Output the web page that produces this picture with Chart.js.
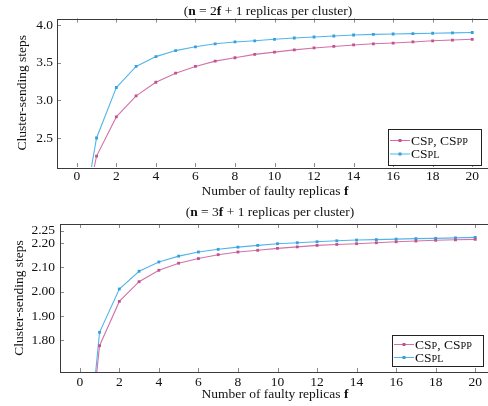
<!DOCTYPE html>
<html>
<head>
<meta charset="utf-8">
<script src="https://cdn.jsdelivr.net/npm/chart.js@4/dist/chart.umd.min.js"></script>
<style>
  html, body { margin: 0; padding: 0; background: #fff; overflow: hidden; }
  #wrap { position: relative; width: 488px; height: 406px; overflow: hidden; }
  .panel { position: absolute; left: 0; width: 500px; }
</style>
</head>
<body>
<div id="wrap">
  <div class="panel" style="top:0;height:200px"><canvas id="twoFChart" width="500" height="200"></canvas></div>
  <div class="panel" style="top:200px;height:206px"><canvas id="threeFChart" width="500" height="206"></canvas></div>
</div>
<script>
// ===============================
// Data
// ===============================
const faultyReplicas = [0, 1, 2, 3, 4, 5, 6, 7, 8, 9, 10, 11, 12, 13, 14, 15, 16, 17, 18, 19, 20];
const xTicks = [0, 2, 4, 6, 8, 10, 12, 14, 16, 18, 20];

// n = 2f + 1
const cspTwoF  = [1, 2.26, 2.78, 3.06, 3.24, 3.36, 3.45, 3.52, 3.565, 3.61, 3.64, 3.67, 3.695, 3.715, 3.735, 3.75, 3.76, 3.775, 3.79, 3.80, 3.81];
const csplTwoF = [1, 2.50, 3.17, 3.45, 3.58, 3.66, 3.71, 3.75, 3.775, 3.79, 3.81, 3.827, 3.84, 3.854, 3.867, 3.875, 3.88, 3.885, 3.89, 3.895, 3.90];
const twoFTicks = [2.5, 3.0, 3.5, 4.0];

// n = 3f + 1
const cspThreeF  = [1, 1.778, 1.960, 2.041, 2.088, 2.117, 2.136, 2.152, 2.163, 2.170, 2.178, 2.184, 2.190, 2.194, 2.197, 2.201, 2.205, 2.208, 2.211, 2.213, 2.215];
const csplThreeF = [1, 1.833, 2.011, 2.084, 2.122, 2.146, 2.163, 2.174, 2.183, 2.190, 2.197, 2.201, 2.205, 2.209, 2.212, 2.214, 2.216, 2.218, 2.219, 2.221, 2.223];
const threeFTicks = [1.80, 1.90, 2.00, 2.10, 2.20, 2.25];

// legend text pieces: [text, smallCaps]
const cspLabel  = [["CS", false], ["P", true], [", CS", false], ["PP", true]];
const csplLabel = [["CS", false], ["PL", true]];

const PINK = "#d272a8", PINK_DOT = "#c2528e";
const BLUE = "#52b5ea", BLUE_DOT = "#35a0dd";
const SERIF = "'Liberation Serif', 'Times New Roman', serif";
const FS = 13.5;

// ===============================
// Drawing helpers
// ===============================
function drawPieces(ctx, pieces, x, y, align) {
  // pieces: [text, fontString]
  let total = 0;
  pieces.forEach(p => { ctx.font = p[1]; total += ctx.measureText(p[0]).width; });
  let cx = align === "center" ? x - total / 2 : x;
  ctx.textAlign = "left";
  ctx.textBaseline = "alphabetic";
  pieces.forEach(p => {
    ctx.font = p[1];
    ctx.fillText(p[0], cx, y);
    cx += ctx.measureText(p[0]).width;
  });
}

const reg = `${FS}px ${SERIF}`;
const bold = `bold ${FS}px ${SERIF}`;
const small = `${FS * 0.76}px ${SERIF}`;

const decorPlugin = {
  id: "decor",
  afterDraw(chart, args, o) {
    const { ctx, chartArea: a, scales } = chart;
    ctx.save();

    // inward ticks on all four sides
    ctx.strokeStyle = "#8a8a8a";
    ctx.lineWidth = 1;
    ctx.beginPath();
    scales.x.ticks.forEach(t => {
      const px = Math.round(scales.x.getPixelForValue(t.value)) + 0.5;
      ctx.moveTo(px, a.bottom); ctx.lineTo(px, a.bottom - 4);
      ctx.moveTo(px, a.top); ctx.lineTo(px, a.top + 4);
    });
    scales.y.ticks.forEach(t => {
      const py = Math.round(scales.y.getPixelForValue(t.value)) + 0.5;
      ctx.moveTo(a.left, py); ctx.lineTo(a.left + 4, py);
      ctx.moveTo(a.right, py); ctx.lineTo(a.right - 4, py);
    });
    ctx.stroke();

    // frame
    ctx.strokeStyle = "#3a3a3a";
    ctx.strokeRect(Math.round(a.left) + 0.5, Math.round(a.top) + 0.5,
      Math.round(a.right - a.left), Math.round(a.bottom - a.top));

    ctx.fillStyle = "#111";
    // title
    drawPieces(ctx, [["(", reg], ["n", bold], [" = " + o.nFactor, reg], ["f", bold], [" + 1 replicas per cluster)", reg]],
      o.titleX, o.titleY, "center");
    // x title
    drawPieces(ctx, [["Number of faulty replicas ", reg], ["f", bold]], o.xTitleX, o.xTitleY, "center");
    // y title
    ctx.save();
    ctx.translate(o.yTitleX, (a.top + a.bottom) / 2);
    ctx.rotate(-Math.PI / 2);
    ctx.font = reg;
    ctx.textAlign = "center";
    ctx.textBaseline = "middle";
    ctx.fillText("Cluster-sending steps", 0, 0);
    ctx.restore();

    // legend box
    const L = o.legend;
    ctx.fillStyle = "#fff";
    ctx.fillRect(L.x, L.y, L.w, L.h);
    ctx.strokeStyle = "#222";
    ctx.strokeRect(L.x + 0.5, L.y + 0.5, L.w, L.h);
    const rows = [[cspLabel, PINK, PINK_DOT], [csplLabel, BLUE, BLUE_DOT]];
    rows.forEach((r, i) => {
      const cy = L.y + L.rowTop + i * L.rowGap;
      ctx.strokeStyle = r[1];
      ctx.beginPath();
      ctx.moveTo(L.x + 2, cy + 0.5); ctx.lineTo(L.x + 22, cy + 0.5);
      ctx.stroke();
      ctx.fillStyle = r[2];
      ctx.fillRect(L.x + 10.5, cy - 1, 3, 3);
      ctx.fillStyle = "#111";
      drawPieces(ctx, r[0].map(p => [p[0], p[1] ? small : reg]), L.x + 23, cy + 4.5, "left");
    });

    ctx.restore();
  }
};

function makeChart(id, csp, cspl, yTicks, yMin, yMax, decimals, lay) {
  const font = { family: SERIF, size: FS };
  return new Chart(document.getElementById(id), {
    type: "line",
    data: {
      datasets: [
        {
          label: "CSP, CSPP",
          data: faultyReplicas.map((f, i) => ({ x: f, y: csp[i] })),
          borderColor: PINK, backgroundColor: PINK_DOT,
          borderWidth: 1.1, pointStyle: "rect", pointRadius: 2, pointBorderWidth: 0,
          tension: 0
        },
        {
          label: "CSPL",
          data: faultyReplicas.map((f, i) => ({ x: f, y: cspl[i] })),
          borderColor: BLUE, backgroundColor: BLUE_DOT,
          borderWidth: 1.1, pointStyle: "rect", pointRadius: 2, pointBorderWidth: 0,
          tension: 0
        }
      ]
    },
    options: {
      responsive: false,
      animation: false,
      layout: { padding: { top: lay.top, right: lay.right, left: 0, bottom: 0 } },
      plugins: {
        legend: { display: false },
        tooltip: { enabled: false },
        decor: lay.decor
      },
      scales: {
        x: {
          type: "linear", min: -1, max: 21,
          afterBuildTicks: s => { s.ticks = xTicks.map(v => ({ value: v })); },
          afterFit: s => { s.height = lay.xHeight; },
          grid: { display: false, drawTicks: false },
          border: { display: false },
          ticks: { padding: lay.xPad, color: "#111", font, autoSkip: false, maxRotation: 0, callback: v => String(v) }
        },
        y: {
          type: "linear", min: yMin, max: yMax,
          afterBuildTicks: s => { s.ticks = yTicks.map(v => ({ value: v })); },
          afterFit: s => { s.width = lay.yWidth; },
          grid: { display: false, drawTicks: false },
          border: { display: false },
          ticks: { padding: lay.yPad, color: "#111", font, callback: v => Number(v).toFixed(decimals) }
        }
      }
    },
    plugins: [decorPlugin]
  });
}

makeChart("twoFChart", cspTwoF, csplTwoF, twoFTicks, 2.115, 4.086, 1, {
  top: 18.5, right: 8, xHeight: 33, yWidth: 57, xPad: 1, yPad: 4,
  decor: {
    nFactor: "2", titleX: 268, titleY: 14.5, xTitleX: 275, xTitleY: 195, yTitleX: 22,
    legend: { x: 388, y: 129, w: 93, h: 36, rowTop: 11, rowGap: 13.5 }
  }
});

makeChart("threeFChart", cspThreeF, csplThreeF, threeFTicks, 1.67, 2.278, 2, {
  top: 24, right: 5, xHeight: 34, yWidth: 60, xPad: 2.5, yPad: 5,
  decor: {
    nFactor: "3", titleX: 270, titleY: 16, xTitleX: 275, xTitleY: 198, yTitleX: 19.5,
    legend: { x: 392, y: 135, w: 91, h: 31, rowTop: 9, rowGap: 13 }
  }
});
</script>
</body>
</html>
